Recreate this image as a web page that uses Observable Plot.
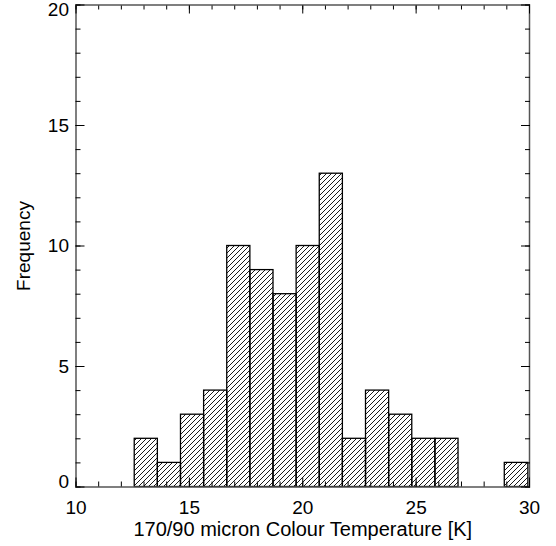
<!DOCTYPE html>
<html>
<head>
<meta charset="utf-8">
<script src="https://cdn.jsdelivr.net/npm/d3@7"></script>
<script src="https://cdn.jsdelivr.net/npm/@observablehq/plot@0.6"></script>
<style>
  html, body { margin: 0; padding: 0; background: #fff; }
  #chart { width: 556px; height: 546px; }
</style>
</head>
<body>
<div id="chart"></div>
<script>
// Histogram bin edges (K) and counts
const binEdges = [12.59, 13.61, 14.63, 15.65, 16.67, 17.69, 18.71, 19.73, 20.75, 21.77, 22.79, 23.81, 24.83, 25.85, 26.87, 27.89, 28.91, 29.95];
const counts   = [2, 1, 3, 4, 10, 9, 8, 10, 13, 2, 4, 3, 2, 2, 0, 0, 1];

const xMajorTicks = [10, 15, 20, 25, 30];
const xMinorTicks = d3.range(10, 31, 1);
const yMidTicks = [5, 10, 15];
const yTopTick = [20];
const yBottomTick = [0];
const yMajorTicks = [0, 5, 10, 15, 20];
const yMinorTicks = d3.range(0, 21, 1);

const xTitle = "170/90 micron Colour Temperature [K]";
const yTitle = "Frequency";

const bins = counts.map((c, i) => ({x1: binEdges[i], x2: binEdges[i + 1], count: c})).filter(d => d.count > 0);

const font = "'Liberation Sans', Arial, Helvetica, sans-serif";
const blank = () => "";

const chart = Plot.plot({
  width: 556,
  height: 546,
  marginLeft: 75.5,
  marginRight: 27,
  marginTop: 4.5,
  marginBottom: 59.5,
  style: {fontFamily: font, fontSize: "19px", color: "black", background: "white"},
  x: {domain: [10, 30]},
  y: {domain: [0, 20]},
  marks: [
    Plot.rectY(bins, {x1: "x1", x2: "x2", y: "count", fill: "url(#hatch)", stroke: "black", strokeWidth: 1.3}),
    Plot.frame({stroke: "#555", strokeWidth: 1.5}),
    // bottom axis: tick labels, title, inward ticks
    Plot.axisX({anchor: "bottom", ticks: xMajorTicks, tickSize: 0, tickPadding: 13, fontSize: 19, label: null}),
    Plot.axisX({anchor: "bottom", ticks: [], tickSize: 0, fontSize: 20, label: xTitle, labelAnchor: "center", labelArrow: "none", labelOffset: 49}),
    Plot.axisX({anchor: "bottom", ticks: xMajorTicks, tickSize: -9, tickFormat: blank, label: null}),
    Plot.axisX({anchor: "bottom", ticks: xMinorTicks, tickSize: -5, tickFormat: blank, label: null}),
    // top axis: inward ticks only
    Plot.axisX({anchor: "top", ticks: xMajorTicks, tickSize: -8, tickFormat: blank, label: null}),
    Plot.axisX({anchor: "top", ticks: xMinorTicks, tickSize: -4, tickFormat: blank, label: null}),
    // left axis labels (end labels nudged inside the frame)
    Plot.axisY({anchor: "left", ticks: yMidTicks, tickSize: 0, tickPadding: 7, fontSize: 19, label: yTitle, labelAnchor: "center", labelArrow: "none", labelOffset: 60}),
    Plot.axisY({anchor: "left", ticks: yTopTick, tickSize: 0, tickPadding: 7, fontSize: 19, dy: 5, label: null}),
    Plot.axisY({anchor: "left", ticks: yBottomTick, tickSize: 0, tickPadding: 7, fontSize: 19, dy: -5.5, label: null}),
    Plot.axisY({anchor: "left", ticks: yMajorTicks, tickSize: -9, tickFormat: blank, label: null}),
    Plot.axisY({anchor: "left", ticks: yMinorTicks, tickSize: -5, tickFormat: blank, label: null}),
    // right axis
    Plot.axisY({anchor: "right", ticks: yMajorTicks, tickSize: -9, tickFormat: blank, label: null}),
    Plot.axisY({anchor: "right", ticks: yMinorTicks, tickSize: -5, tickFormat: blank, label: null})
  ]
});

// hatch pattern definition
const ns = "http://www.w3.org/2000/svg";
const defs = document.createElementNS(ns, "defs");
const pat = document.createElementNS(ns, "pattern");
pat.setAttribute("id", "hatch");
pat.setAttribute("patternUnits", "userSpaceOnUse");
pat.setAttribute("width", "5");
pat.setAttribute("height", "5");
const path = document.createElementNS(ns, "path");
path.setAttribute("d", "M-1,1 L1,-1 M0,5 L5,0 M4,6 L6,4");
path.setAttribute("stroke", "black");
path.setAttribute("stroke-width", "0.9");
pat.appendChild(path);
defs.appendChild(pat);
chart.insertBefore(defs, chart.firstChild);

document.getElementById("chart").appendChild(chart);
</script>
</body>
</html>
